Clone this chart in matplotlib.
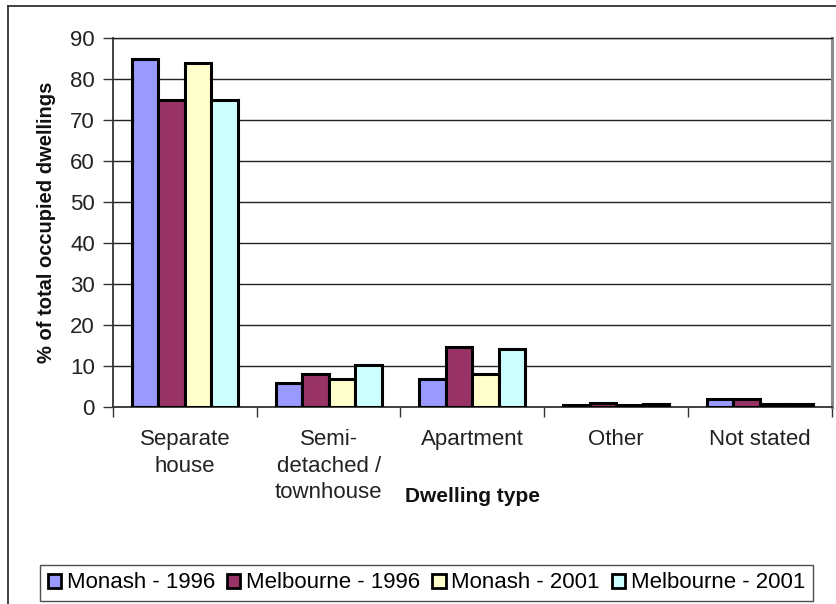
import matplotlib.pyplot as plt
import numpy as np
from matplotlib.patches import Patch
from matplotlib.lines import Line2D

plt.rcParams['font.family'] = ['Liberation Sans', 'DejaVu Sans']

categories = ["Separate\nhouse", "Semi-\ndetached /\ntownhouse", "Apartment", "Other", "Not stated"]
series_names = ["Monash - 1996", "Melbourne - 1996", "Monash - 2001", "Melbourne - 2001"]
monash_1996 = [84.8, 5.7, 6.8, 0.35, 1.9]
melbourne_1996 = [74.9, 7.9, 14.6, 0.8, 1.9]
monash_2001 = [83.8, 6.8, 7.9, 0.3, 0.65]
melbourne_2001 = [74.9, 10.2, 14.2, 0.7, 0.65]
colors = ["#9999FF", "#993366", "#FFFFCC", "#CCFFFF"]
yticks = [0, 10, 20, 30, 40, 50, 60, 70, 80, 90]

W, H = 837, 604
fig = plt.figure(figsize=(W / 100, H / 100), dpi=100)

# outer chart frame (left and top edges)
fig.add_artist(Line2D([8 / W, 8 / W], [0, 1 - 6 / H], color="#333333", lw=1.3))
fig.add_artist(Line2D([8 / W, 1], [1 - 6 / H, 1 - 6 / H], color="#333333", lw=1.3))

ax = fig.add_axes([113 / W, 1 - 406.7 / H, (831.7 - 113) / W, (406.7 - 38) / H])

x = np.arange(len(categories))
bw = 0.184
data = [monash_1996, melbourne_1996, monash_2001, melbourne_2001]
for i, (vals, c) in enumerate(zip(data, colors)):
    ax.bar(x + (i - 1.5) * bw, vals, width=bw, color=c, edgecolor="black",
           linewidth=2.2, zorder=3)

ax.set_xlim(-0.5, len(categories) - 0.5)
ax.set_ylim(0, 90)
ax.set_yticks(yticks)
ax.yaxis.grid(True, color="#222222", lw=1.0, zorder=0)
ax.set_axisbelow(True)

ax.set_xticks(x)
ax.set_xticklabels(categories, fontsize=16, color="#222222", linespacing=1.35, va="top")
ax.tick_params(axis="x", which="major", length=0, pad=16)
ax.set_xticks(np.arange(len(categories) + 1) - 0.5, minor=True)
ax.tick_params(axis="x", which="minor", length=7, width=1.0, color="#333333")
ax.tick_params(axis="y", length=7, width=1.0, color="#333333", labelsize=16,
               labelcolor="#222222", pad=6)

for s in ["left", "bottom"]:
    ax.spines[s].set_color("#333333")
    ax.spines[s].set_linewidth(1.3)
ax.spines["top"].set_color("#222222")
ax.spines["top"].set_linewidth(1.0)
ax.spines["right"].set_color("#8a8a8a")
ax.spines["right"].set_linewidth(2.2)

ax.set_ylabel("% of total occupied dwellings", fontsize=14.5, fontweight="bold", color="#111111")
ax.yaxis.set_label_coords((56 - 113) / (831.7 - 113), 0.5)
ax.set_xlabel("Dwelling type", fontsize=15, fontweight="bold", color="#111111")
ax.xaxis.set_label_coords(0.5, -(487 - 406.7) / (406.7 - 38))

handles = [Patch(facecolor=c, edgecolor="black", linewidth=2.0) for c in colors]
leg = fig.legend(handles, series_names, ncol=4, loc="center",
                 bbox_to_anchor=((38 + 815) / 2 / W, 1 - 583 / H),
                 fontsize=16, frameon=True, fancybox=False,
                 handlelength=0.6, handleheight=0.6, handletextpad=0.25,
                 columnspacing=0.55, borderpad=0.35, borderaxespad=0)
leg.get_frame().set_edgecolor("#222222")
leg.get_frame().set_linewidth(1.0)

fig.savefig("out.png", dpi=100)
